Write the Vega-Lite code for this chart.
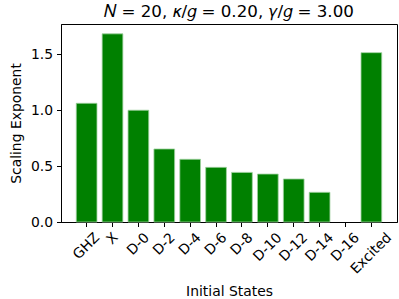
{
  "$schema": "https://vega.github.io/schema/vega-lite/v6.json",
  "width": 336,
  "height": 198,
  "autosize": {"type": "none"},
  "padding": {"left": 61, "top": 24, "right": 2, "bottom": 77},
  "background": "white",
  "title": {
    "text": "𝑁 = 20, 𝜅/𝑔 = 0.20, 𝛾/𝑔 = 3.00",
    "font": "DejaVu Sans",
    "fontSize": 16.7,
    "fontWeight": "normal",
    "color": "black",
    "anchor": "middle",
    "offset": 3
  },
  "config": {
    "view": {"stroke": "black", "strokeWidth": 1},
    "axis": {
      "labelFont": "DejaVu Sans",
      "titleFont": "DejaVu Sans",
      "labelFontSize": 13.9,
      "titleFontSize": 13.9,
      "titleFontWeight": "normal",
      "labelColor": "black",
      "titleColor": "black",
      "tickColor": "black",
      "domainColor": "black",
      "grid": false,
      "tickSize": 4.5
    }
  },
  "data": {
    "values": [
      {"state": "GHZ", "value": 1.06},
      {"state": "X", "value": 1.68},
      {"state": "D-0", "value": 0.998},
      {"state": "D-2", "value": 0.652},
      {"state": "D-4", "value": 0.56},
      {"state": "D-6", "value": 0.488},
      {"state": "D-8", "value": 0.443},
      {"state": "D-10", "value": 0.428},
      {"state": "D-12", "value": 0.384},
      {"state": "D-14", "value": 0.265},
      {"state": "D-16", "value": null},
      {"state": "Excited", "value": 1.512}
    ]
  },
  "mark": {"type": "bar", "color": "#008000", "stroke": "#9fd09f", "strokeWidth": 0.8},
  "encoding": {
    "x": {
      "field": "state",
      "type": "nominal",
      "sort": null,
      "scale": {
        "domain": ["GHZ", "X", "D-0", "D-2", "D-4", "D-6", "D-8", "D-10", "D-12", "D-14", "D-16", "Excited"],
        "paddingInner": 0.2,
        "paddingOuter": 0.59
      },
      "axis": {
        "title": "Initial States",
        "labelAngle": -45,
        "labelAlign": "center",
        "labelBaseline": "middle",
        "labelPadding": {"expr": "datum.label == 'X' ? 11.9 : datum.label == 'GHZ' ? 19.4 : datum.label == 'Excited' ? 26.7 : length(datum.label) == 4 ? 20.4 : 17.3"},
        "titlePadding": 8
      }
    },
    "y": {
      "field": "value",
      "type": "quantitative",
      "scale": {"domain": [0, 1.768], "nice": false},
      "axis": {
        "title": "Scaling Exponent",
        "values": [0, 0.5, 1.0, 1.5],
        "format": ".1f",
        "labelPadding": 4,
        "titlePadding": 7
      }
    }
  }
}
